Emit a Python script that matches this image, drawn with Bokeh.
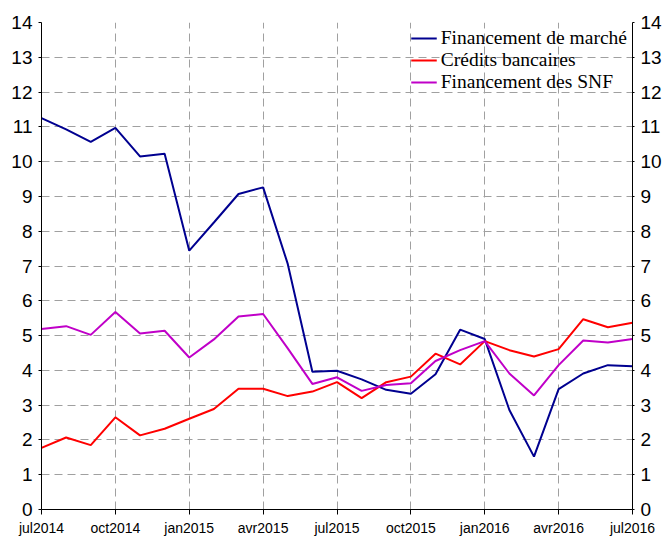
from bokeh.plotting import figure
from bokeh.models import Range1d, LinearAxis, FixedTicker, Legend, LegendItem
from bokeh.embed import file_html
from bokeh.resources import INLINE

months = ["jul2014", "aoû2014", "sep2014", "oct2014", "nov2014", "déc2014",
          "jan2015", "fév2015", "mar2015", "avr2015", "mai2015", "jun2015",
          "jul2015", "aoû2015", "sep2015", "oct2015", "nov2015", "déc2015",
          "jan2016", "fév2016", "mar2016", "avr2016", "mai2016", "jun2016",
          "jul2016"]
marche = [11.25, 10.93, 10.57, 10.97, 10.15, 10.23, 7.44, 8.25, 9.07, 9.26,
          7.06, 3.96, 3.99, 3.74, 3.44, 3.33, 3.89, 5.17, 4.90, 2.86, 1.52,
          3.46, 3.91, 4.15, 4.12]
credits = [1.77, 2.07, 1.85, 2.65, 2.13, 2.32, 2.61, 2.89, 3.47, 3.47, 3.26,
           3.39, 3.66, 3.20, 3.66, 3.82, 4.48, 4.17, 4.84, 4.58, 4.40, 4.61,
           5.47, 5.24, 5.37]
snf = [5.19, 5.27, 5.02, 5.68, 5.06, 5.14, 4.37, 4.89, 5.55, 5.62, 4.63,
       3.61, 3.80, 3.41, 3.58, 3.63, 4.27, 4.58, 4.84, 3.91, 3.28, 4.15,
       4.86, 4.80, 4.90]
series_names = ["Financement de marché", "Crédits bancaires", "Financement des SNF"]
tick_labels = ["jul2014", "oct2014", "jan2015", "avr2015", "jul2015",
               "oct2015", "jan2016", "avr2016", "jul2016"]
y_ticks = list(range(0, 15))

x = list(range(len(months)))
x_ticks = [months.index(t) for t in tick_labels]

p = figure(width=664, height=538, output_backend="svg",
           toolbar_location=None,
           x_range=Range1d(0, len(months) - 1), y_range=Range1d(0, 14),
           min_border_left=41, min_border_top=22, min_border_bottom=26,
           min_border_right=0)
p.outline_line_color = None
p.background_fill_color = "white"
p.border_fill_color = "white"

# axes
xa = p.xaxis[0]
xa.ticker = FixedTicker(ticks=x_ticks)
xa.major_label_overrides = {k: v for k, v in zip(x_ticks, tick_labels)}
xa.major_tick_out = 5
xa.major_tick_in = 0
xa.minor_tick_out = 0
xa.minor_tick_in = 0
xa.major_label_standoff = 5
xa.major_label_text_font = "Liberation Sans"
xa.major_label_text_font_size = "14px"
xa.major_label_text_color = "black"
xa.axis_line_color = "black"
xa.major_tick_line_color = "black"

ya = p.yaxis[0]
ya.ticker = FixedTicker(ticks=y_ticks)
ya.major_tick_out = 3
ya.major_tick_in = 0
ya.minor_tick_out = 0
ya.minor_tick_in = 0
ya.major_label_standoff = 6
ya.major_label_text_font = "Liberation Sans"
ya.major_label_text_font_size = "19px"
ya.major_label_text_color = "black"
ya.axis_line_color = "black"
ya.major_tick_line_color = "black"

ra = LinearAxis(ticker=FixedTicker(ticks=y_ticks),
                major_tick_out=2, major_tick_in=0, minor_tick_out=0,
                minor_tick_in=0, major_label_standoff=6,
                major_label_text_font="Liberation Sans",
                major_label_text_font_size="19px",
                major_label_text_color="black",
                axis_line_color="black", major_tick_line_color="black")
p.add_layout(ra, "right")

# grids
p.xgrid.ticker = FixedTicker(ticks=x_ticks)
p.ygrid.ticker = FixedTicker(ticks=y_ticks)
for g in (p.xgrid[0], p.ygrid[0]):
    g.grid_line_color = "#a0a0a0"
    g.grid_line_dash = "8 5"
    g.grid_line_width = 1

colors = ["#000090", "#ff0000", "#c000c8"]
renderers = []
for vals, c in zip([marche, credits, snf], colors):
    r = p.line(x, vals, line_color=c, line_width=2)
    renderers.append(r)

legend = Legend(items=[LegendItem(label=n, renderers=[r])
                       for n, r in zip(series_names, renderers)],
                location="top_right", background_fill_alpha=0,
                border_line_color=None, label_text_font="Liberation Serif",
                label_text_font_size="19.5px", label_text_color="black",
                glyph_width=26, glyph_height=22, label_height=22,
                label_standoff=4, spacing=0, padding=5, margin=5)
p.add_layout(legend)

open("out.html", "w").write(file_html(p, INLINE))
